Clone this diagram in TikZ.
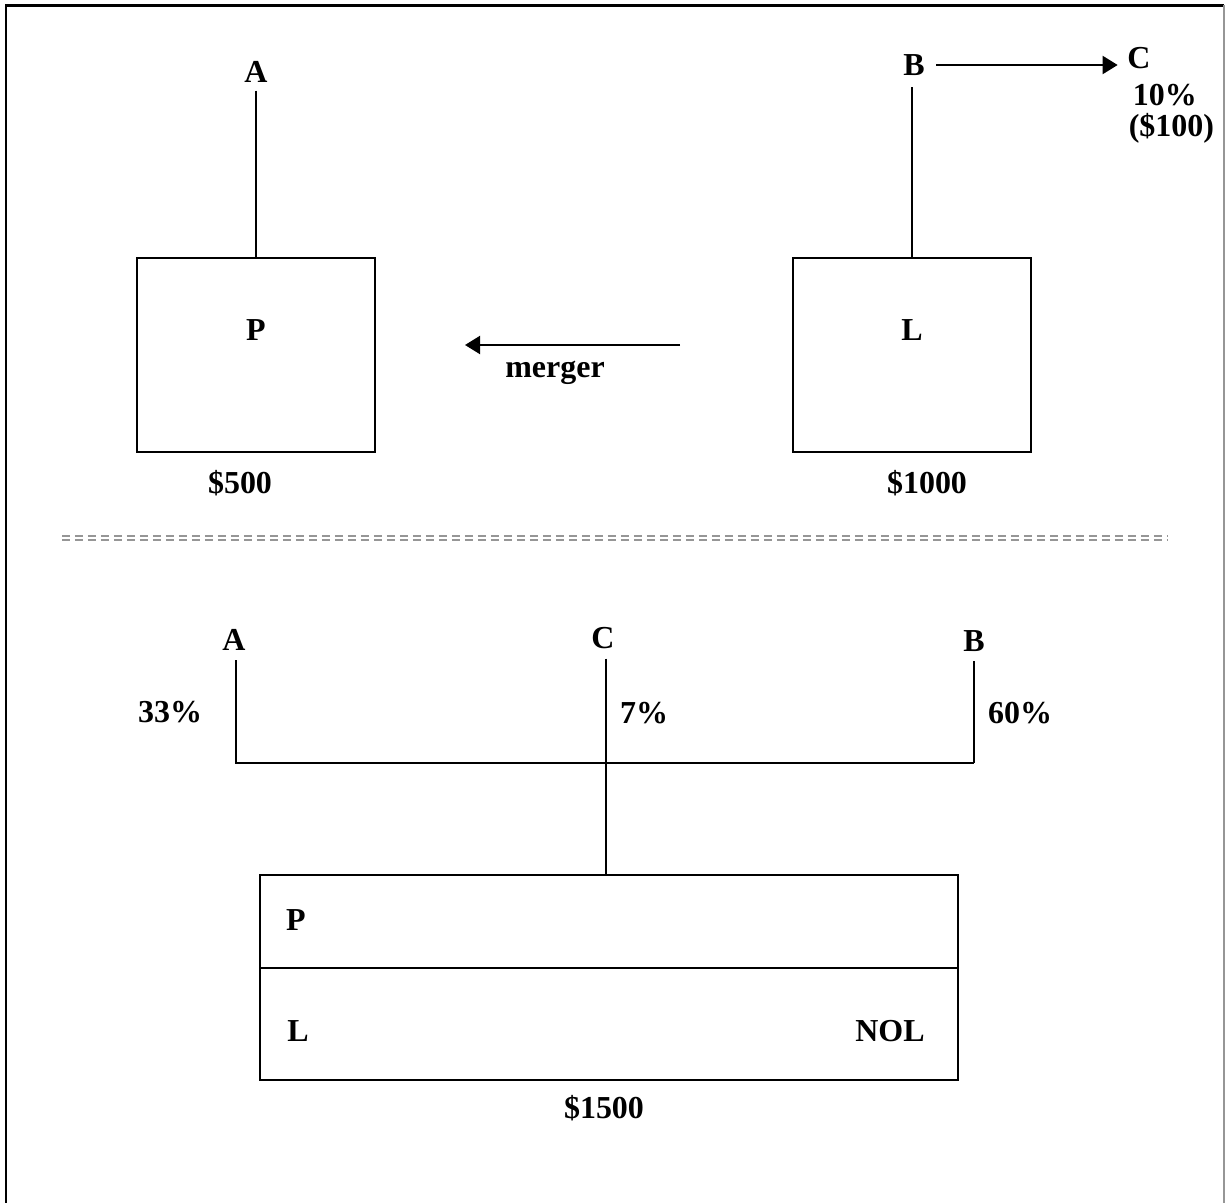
\documentclass[tikz,border=0pt]{standalone}
\usepackage{fontspec}
\setmainfont{Liberation Serif}
\usetikzlibrary{arrows.meta, positioning}
\definecolor{rulegray}{RGB}{150,150,150}

\begin{document}
\begin{tikzpicture}[x=0.02cm, y=-0.02cm, >={Triangle[length=0.3cm, width=0.36cm]},
        line width=1.15pt,
        lbl/.style={font=\fontsize{18.2}{21}\selectfont\bfseries, inner sep=1pt},
        firm/.style={draw, line width=1.15pt, minimum width=4.76cm, minimum height=3.88cm}]
      \useasboundingbox (0,0) rectangle (1225,1203);
      \draw[line width=1.3pt] (6,1203) -- (6,5.5) -- (1224,5.5);
      \draw[rulegray, line width=1.3pt] (1224,5.5) -- (1224,1203);
      % before the merger
      \node[firm] (P) at (256,355) {};
      \node[firm] (L) at (912,355) {};
      \node[lbl] (Ptxt) at (256,330) {P};
      \node[lbl] (Ltxt) at (912,330) {L};
      \node[lbl] (A) at (256,72) {A};
      \node[lbl] (B) at (914,65) {B};
      \node[lbl] (C) at (1139,58) {C};
      \node[lbl, anchor=west] (Cpct) at (1130,95) {10\%};
      \node[lbl, anchor=west] (Cval) at (1126,128) {(\$100)};
      \node[lbl] (Pval) at (240,483) {\$500};
      \node[lbl] (Lval) at (927,483) {\$1000};
      \coordinate (mfrom) at (680,345);
      \coordinate (mto) at (465,345);
      \node[lbl] (mlbl) at (555,373) {merger};
      \draw[shorten <=3pt] (A.south) -- (P.north);
      \draw[shorten <=5pt] (B.south -| L.north) -- (L.north);
      \draw[->, shorten <=5pt, shorten >=4pt] (B.east) -- (B.east -| C.west);
      \draw[->] (mfrom) -- (mto);
      % separator
      \draw[rulegray, line width=0.7pt, dash pattern=on 0.17cm off 0.09cm] (62,536) -- (1167,536);
      \draw[rulegray, line width=0.7pt, dash pattern=on 0.17cm off 0.09cm] (62,540) -- (1167,540);
      % after the merger
      \node[draw, line width=1.15pt, minimum width=13.96cm, minimum height=4.1cm] (NP) at (609,977.5) {};
      \draw (NP.west |- 0,968) -- (NP.east |- 0,968);
      \node[lbl] (NPtxt) at (296,920) {P};
      \node[lbl] (NLtxt) at (298,1031) {L};
      \node[lbl] (NOL) at (890,1031) {NOL};
      \node[lbl] (NPval) at (604,1108) {\$1500};
      \node[lbl] (A2) at (234,640) {A};
      \node[lbl] (C2) at (603,638) {C};
      \node[lbl] (B2) at (974,641) {B};
      \node[lbl] (Apct) at (170,712) {33\%};
      \node[lbl] (Cpct2) at (644,713) {7\%};
      \node[lbl] (Bpct) at (1020,713) {60\%};
      \coordinate (jl) at (236,763);
      \coordinate (jr) at (974,763);
      \draw[shorten <=4pt] (jl |- A2.south) -- (jl) -- (jr);
      \draw[shorten >=4pt] (jr) -- (jr |- B2.south);
      \draw[shorten <=4pt] ([xshift=1.5pt]C2.south) -- ([xshift=1.5pt]C2.south |- NP.north);
    \end{tikzpicture}
\end{document}
